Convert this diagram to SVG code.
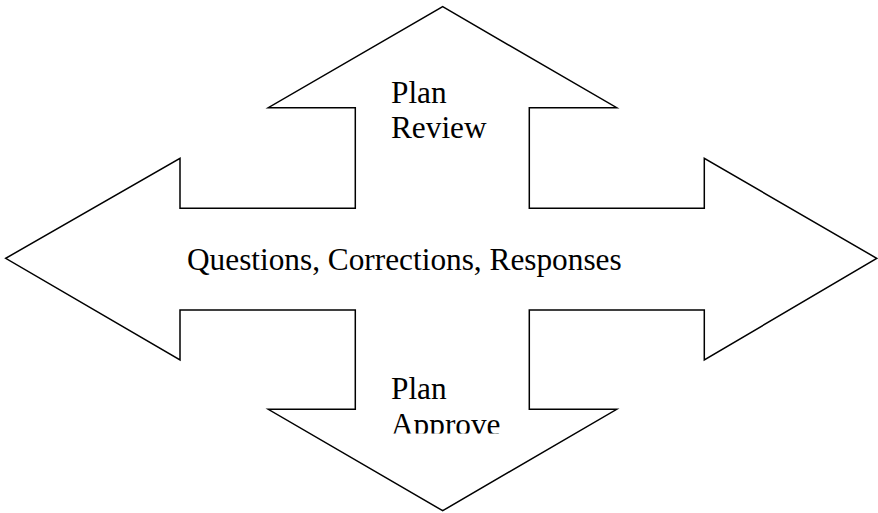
<svg xmlns="http://www.w3.org/2000/svg" width="878" height="513" viewBox="0 0 878 513">
  <style>
    .shape { fill: #ffffff; stroke: #000000; stroke-width: 1.5; stroke-linejoin: miter; }
    .lbl { font-family: "Liberation Serif", "Times New Roman", serif; font-size: 31.3px; fill: #000000; }
  </style>
  <defs>
    <clipPath id="clipBottom">
      <rect x="370" y="360" width="160" height="73.5"/>
    </clipPath>
  </defs>
  <rect width="878" height="513" fill="#ffffff"/>
  <g id="quad-arrow">
    <polygon class="shape" points="442.7,6.7 616.7,107.7 529.3,107.7 529.3,208.3 704.3,208.3 704.3,158.3 876.7,258.3 704.3,360 704.3,310 529.3,310 529.3,409.3 616.7,409.3 442.7,510.7 268.3,409.3 355.3,409.3 355.3,310 180,310 180,360 5.7,258.3 180,158.3 180,208.3 355.3,208.3 355.3,107.7 268.3,107.7"/>
  </g>
  <g id="label-review">
    <text class="lbl" x="391" y="102.5">Plan</text>
    <text class="lbl" x="391" y="138">Review</text>
  </g>
  <g id="label-center">
    <text class="lbl" x="187" y="269.5">Questions, Corrections, Responses</text>
  </g>
  <g id="label-approve" clip-path="url(#clipBottom)">
    <text class="lbl" x="391" y="399">Plan</text>
    <text class="lbl" x="391" y="434.5">Approve</text>
  </g>
</svg>
